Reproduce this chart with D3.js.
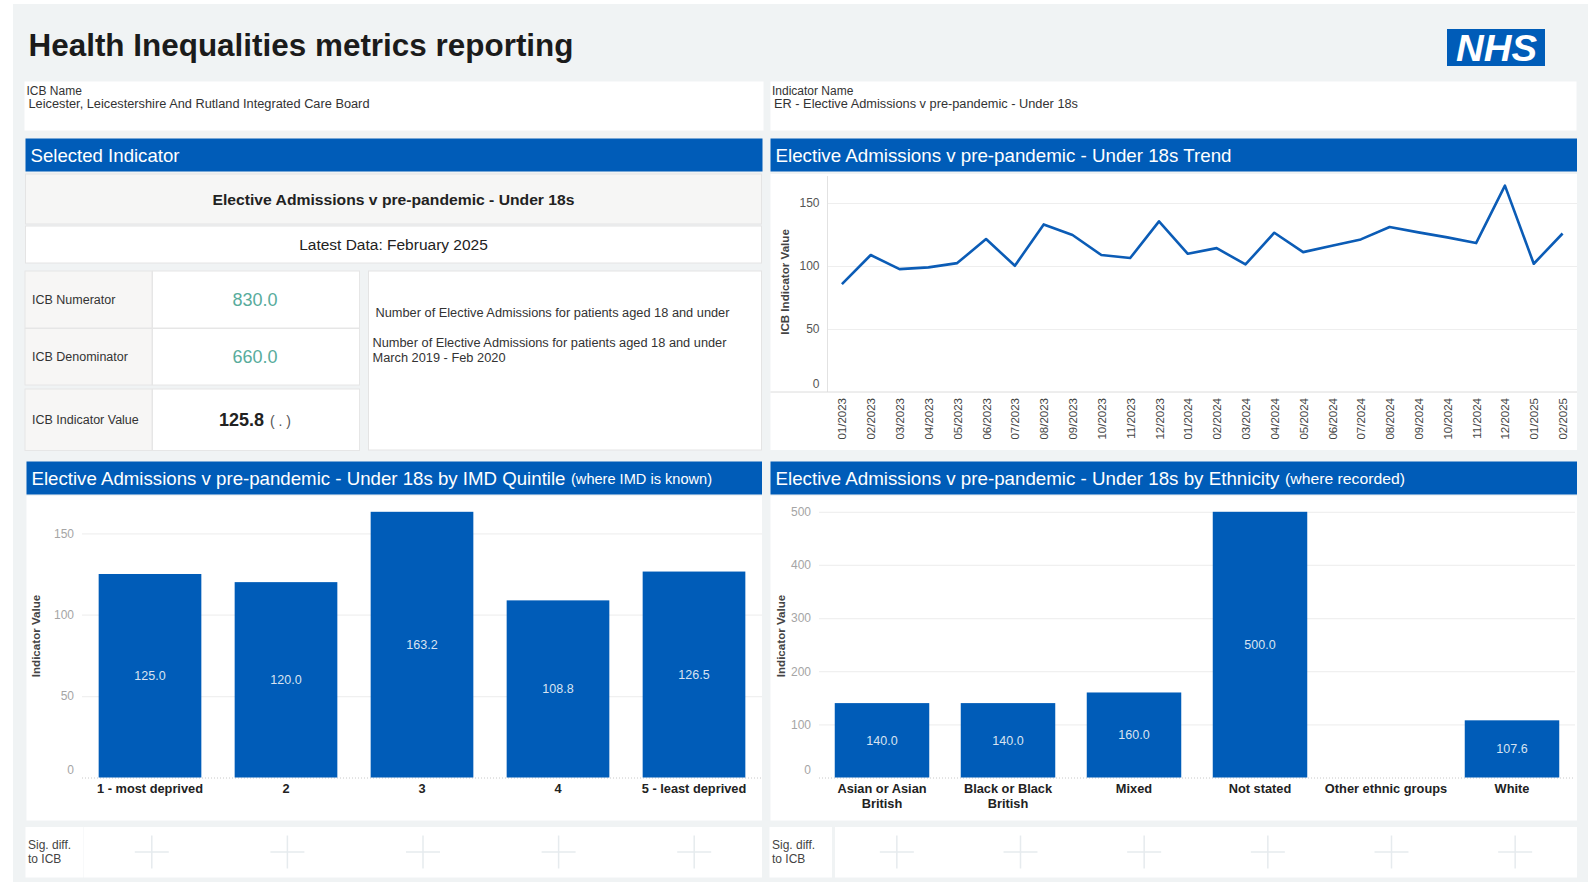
<!DOCTYPE html>
<html><head><meta charset="utf-8">
<script src="https://cdn.jsdelivr.net/npm/d3@7"></script>
<style>
body{margin:0;background:#fff;}
svg{display:block;font-family:"Liberation Sans",Arial,Helvetica,sans-serif;}
</style></head><body>
<svg id="c" width="1596" height="882"></svg>
<script>
// ---------- DATA ----------
const pageTitle = "Health Inequalities metrics reporting";
const icbLabel = "ICB Name";
const icbName = "Leicester, Leicestershire And Rutland Integrated Care Board";
const indicatorLabel = "Indicator Name";
const indicatorName = "ER - Elective Admissions v pre-pandemic - Under 18s";
const indicatorTitle = "Elective Admissions v pre-pandemic - Under 18s";
const latestData = "Latest Data: February 2025";
const summaryLabels = ["ICB Numerator", "ICB Denominator", "ICB Indicator Value"];
const summaryValues = [830.0, 660.0, 125.8];
const definitionNumerator = ["Number of Elective Admissions for patients aged 18 and under"];
const definitionDenominator = ["Number of Elective Admissions for patients aged 18 and under", "March 2019 - Feb 2020"];

const months = ["01/2023","02/2023","03/2023","04/2023","05/2023","06/2023","07/2023","08/2023","09/2023","10/2023","11/2023","12/2023",
                "01/2024","02/2024","03/2024","04/2024","05/2024","06/2024","07/2024","08/2024","09/2024","10/2024","11/2024","12/2024",
                "01/2025","02/2025"];
const trendValues = [85.6,108.7,97.5,98.9,102.3,121.4,100.2,133.0,124.6,108.7,106.3,135.4,
                     109.7,114.2,101.2,126.4,111.0,116.1,121.1,130.9,126.7,122.7,118.2,163.8,
                     101.8,125.8];
const trendTicks = [0, 50, 100, 150];

const imdCategories = ["1 - most deprived", "2", "3", "4", "5 - least deprived"];
const imdValues = [125.0, 120.0, 163.2, 108.8, 126.5];
const imdTicks = [0, 50, 100, 150];

const ethCategories = ["Asian or Asian\nBritish", "Black or Black\nBritish", "Mixed", "Not stated", "Other ethnic groups", "White"];
const ethValues = [140.0, 140.0, 160.0, 500.0, null, 107.6];
const ethTicks = [0, 100, 200, 300, 400, 500];

const sigLabel = ["Sig. diff.", "to ICB"];

// ---------- HELPERS ----------
const BLUE = "#005cb8";
const svg = d3.select("#c");

function rect(x, y, w, h, fill, stroke) {
  const r = svg.append("rect").attr("x", x).attr("y", y).attr("width", w).attr("height", h).attr("fill", fill);
  if (stroke) r.attr("stroke", stroke).attr("stroke-width", 1);
  return r;
}
function text(x, y, s, o = {}) {
  const t = svg.append("text").attr("x", x).attr("y", y).text(s)
    .attr("font-size", o.size || 12)
    .attr("font-weight", o.weight || "normal")
    .attr("fill", o.fill || "#333")
    .attr("text-anchor", o.anchor || "start");
  if (o.width) t.attr("textLength", o.width).attr("lengthAdjust", "spacingAndGlyphs");
  if (o.style) t.attr("font-style", o.style);
  return t;
}
function header(x, y, w, h, title, titleW, sub, subX, subW) {
  rect(x, y, w, h, BLUE);
  text(x + 5, y + h / 2 + 6.5, title, {size: 18.5, fill: "#fff", width: titleW});
  if (sub) text(subX, y + h / 2 + 5.5, sub, {size: 14.5, fill: "#fff", width: subW});
}

// ---------- BACKGROUND ----------
rect(13, 4, 1575, 878, "#f0f3f4");

// title
text(28.5, 56, pageTitle, {size: 31, weight: "bold", fill: "#1b1b1b", width: 545});

// NHS logo
rect(1447, 29, 98, 37, BLUE);
text(1456, 61, "NHS", {size: 37, weight: "bold", fill: "#fff", style: "italic", width: 81});

// name boxes
rect(24.5, 81.5, 739, 49, "#fff");
text(26.5, 94.5, icbLabel, {size: 12, fill: "#333"});
text(28.5, 108, icbName, {size: 12.3, fill: "#333", width: 341});
rect(770.5, 81.5, 806, 49, "#fff");
text(772, 94.5, indicatorLabel, {size: 12, fill: "#333"});
text(774, 108, indicatorName, {size: 12.3, fill: "#333", width: 304});

// ---------- SELECTED INDICATOR ----------
header(25.5, 138.5, 737, 33, "Selected Indicator", 149);
rect(25.5, 174, 736, 50, "#f6f6f5", "#e4e4e4");
text(393.5, 205, indicatorTitle, {size: 15.5, weight: "bold", fill: "#222", anchor: "middle", width: 362});
rect(25.5, 226, 736, 37, "#fff", "#e4e4e4");
text(393.5, 249.5, latestData, {size: 15.5, fill: "#222", anchor: "middle"});

const rowTops = [271, 328.5, 389];
const rowH = [57, 56.5, 61.5];
summaryLabels.forEach((lab, i) => {
  rect(25, rowTops[i], 127, rowH[i], "#f7f6f5", "#e6e6e6");
  rect(152.5, rowTops[i], 207, rowH[i], "#fff", "#e6e6e6");
  const cy = rowTops[i] + rowH[i] / 2;
  text(32, cy + 4.5, lab, {size: 12.5, fill: "#333"});
  if (i < 2) {
    text(255, cy + 6.5, d3.format(".1f")(summaryValues[i]), {size: 18, fill: "#58ac9c", anchor: "middle"});
  }
});
{
  const cy = rowTops[2] + rowH[2] / 2;
  text(219, cy + 6.5, d3.format(".1f")(summaryValues[2]), {size: 18, weight: "bold", fill: "#222"});
  text(270, cy + 6.5, "( . )", {size: 14, fill: "#555"});
}
rect(368.5, 271, 393, 179, "#fff", "#e4e4e4");
text(375.5, 316.5, definitionNumerator[0], {size: 12.3, fill: "#333", width: 354});
definitionDenominator.forEach((l, i) => text(372.5, 347 + i * 14.5, l, i === 0 ? {size: 12.3, fill: "#333", width: 354} : {size: 12.3, fill: "#333", width: 133}));

// ---------- TREND ----------
header(770.5, 138.5, 806.5, 33, "Elective Admissions v pre-pandemic - Under 18s Trend", 456);
rect(770.5, 174, 806.5, 276, "#fff");
const tX0 = 827.5, tX1 = 1577;
const xT = d3.scalePoint().domain(months).range([tX0, tX1]).padding(0.5);
const yT = d3.scaleLinear().domain([0, 150]).range([392, 203]);

const gyT = svg.append("g").attr("transform", `translate(${tX0},0)`)
  .call(d3.axisLeft(yT).tickValues(trendTicks).tickSize(-(tX1 - tX0)).tickPadding(8));
gyT.select(".domain").remove();
gyT.selectAll(".tick line").attr("stroke", "#eeeeee").attr("stroke-width", 1.2)
  .filter(d => d === 0).remove();
gyT.selectAll(".tick text").attr("font-size", 12).attr("fill", "#555").attr("font-family", null)
  .filter(d => d === 0).attr("dy", "-0.35em");
svg.append("line").attr("x1", tX0).attr("x2", tX0).attr("y1", 176).attr("y2", yT(0)).attr("stroke", "#e2e2e2");
svg.append("line").attr("x1", 770.5).attr("x2", tX1).attr("y1", yT(0)).attr("y2", yT(0)).attr("stroke", "#dcdcdc");

const gxT = svg.append("g").attr("transform", `translate(0,${yT(0)})`)
  .call(d3.axisBottom(xT).tickSize(0).tickPadding(0));
gxT.select(".domain").remove();
gxT.selectAll(".tick text").attr("font-size", 11.5).attr("fill", "#444").attr("font-family", null)
  .attr("text-anchor", "end").attr("transform", "translate(0,6) rotate(-90)")
  .attr("dy", "0.35em").attr("y", 0).attr("x", 0);

svg.append("path").datum(trendValues)
  .attr("d", d3.line().x((d, i) => xT(months[i])).y(d => yT(d)))
  .attr("fill", "none").attr("stroke", "#0b5cb6").attr("stroke-width", 2.6).attr("stroke-linejoin", "round");

svg.append("text").attr("transform", `translate(788.5,282) rotate(-90)`).attr("text-anchor", "middle")
  .attr("font-size", 11.6).attr("font-weight", "bold").attr("fill", "#444").text("ICB Indicator Value");

// ---------- BAR CHART HELPER ----------
function barChart(cfg) {
  header(cfg.x0, 461.5, cfg.x1 - cfg.x0, 33, cfg.title, cfg.titleW, cfg.sub, cfg.subX, cfg.subW);
  rect(cfg.x0, 496, cfg.x1 - cfg.x0, 324.5, "#fff");
  const x = d3.scaleBand().domain(cfg.cats).range([cfg.px0, cfg.px1]).paddingInner(cfg.pad).paddingOuter(cfg.pad / 2);
  const y = d3.scaleLinear().domain([0, d3.max(cfg.vals)]).range([777.5, 511.8]);

  const gy = svg.append("g").attr("transform", `translate(${cfg.px0},0)`)
    .call(d3.axisLeft(y).tickValues(cfg.ticks).tickSize(-(cfg.px1 - cfg.px0)).tickPadding(cfg.tickPad));
  gy.select(".domain").remove();
  gy.selectAll(".tick line").attr("stroke", "#f0f0f0").attr("stroke-width", 1.2).filter(d => d === 0).remove();
  gy.selectAll(".tick text").attr("font-size", 12).attr("fill", "#a5a5a5").attr("font-family", null)
    .filter(d => d === 0).attr("dy", "-0.35em");
  svg.append("line").attr("x1", cfg.px0).attr("x2", cfg.px1).attr("y1", y(0) + 0.5).attr("y2", y(0) + 0.5)
    .attr("stroke", "#c8c8c8").attr("stroke-dasharray", "1,2");

  const data = cfg.cats.map((c, i) => ({c, v: cfg.vals[i]})).filter(d => d.v != null);
  svg.append("g").selectAll("rect").data(data).join("rect")
    .attr("x", d => x(d.c)).attr("width", x.bandwidth())
    .attr("y", d => y(d.v)).attr("height", d => y(0) - y(d.v)).attr("fill", BLUE);
  svg.append("g").selectAll("text").data(data).join("text")
    .attr("x", d => x(d.c) + x.bandwidth() / 2).attr("y", d => (y(0) + y(d.v)) / 2 + 4.5)
    .attr("text-anchor", "middle").attr("font-size", 12.5).attr("fill", "#d8e3f1")
    .text(d => d3.format(".1f")(d.v));

  const gx = svg.append("g").attr("transform", `translate(0,${y(0)})`)
    .call(d3.axisBottom(x).tickSize(0).tickPadding(0));
  gx.select(".domain").remove();
  gx.selectAll(".tick text").each(function (d) {
    const t = d3.select(this).text(null).attr("y", 0).attr("dy", null)
      .attr("font-size", 12.8).attr("font-weight", "bold").attr("fill", "#222").attr("font-family", null);
    d.split("\n").forEach((ln, i) => t.append("tspan").attr("x", 0).attr("y", 15 + i * 15).text(ln));
  });

  svg.append("text").attr("transform", `translate(${cfg.axisTitleX},636) rotate(-90)`).attr("text-anchor", "middle")
    .attr("font-size", 11.6).attr("font-weight", "bold").attr("fill", "#444").text("Indicator Value");

  // Sig diff row
  rect(cfg.x0 - 1, 827, cfg.sigLabelW, 50.5, "#fff");
  rect(cfg.sigX0, 827, cfg.x1 - cfg.sigX0, 50.5, "#fff");
  sigLabel.forEach((l, i) => text(cfg.x0 + 1.5, 849 + i * 13.5, l, {size: 12, fill: "#444"}));
  const xs = d3.scaleBand().domain(cfg.cats).range([cfg.sigX0, cfg.x1]);
  const pg = svg.append("g").selectAll("g").data(cfg.cats).join("g")
    .attr("transform", d => `translate(${xs(d) + xs.bandwidth() / 2},852)`);
  pg.append("line").attr("x1", -17).attr("x2", 17).attr("stroke", "#e6ebee").attr("stroke-width", 1.5);
  pg.append("line").attr("y1", -16.5).attr("y2", 16.5).attr("stroke", "#e6ebee").attr("stroke-width", 1.5);
}

barChart({
  x0: 26.5, x1: 762, px0: 82, px1: 762, pad: 0.245, tickPad: 8,
  cats: imdCategories, vals: imdValues, ticks: imdTicks,
  title: "Elective Admissions v pre-pandemic - Under 18s by IMD Quintile", titleW: 534,
  sub: "(where IMD is known)", subX: 571, subW: 141,
  axisTitleX: 39.5, sigLabelW: 58, sigX0: 84
});
barChart({
  x0: 770.5, x1: 1577, px0: 819, px1: 1575, pad: 0.25, tickPad: 8,
  cats: ethCategories, vals: ethValues, ticks: ethTicks,
  title: "Elective Admissions v pre-pandemic - Under 18s by Ethnicity", titleW: 504,
  sub: "(where recorded)", subX: 1285, subW: 120,
  axisTitleX: 784.5, sigLabelW: 62.5, sigX0: 835
});
</script>
</body></html>
